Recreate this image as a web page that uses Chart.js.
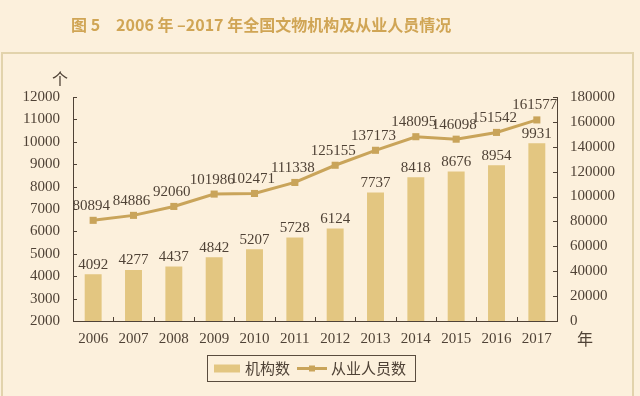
<!DOCTYPE html>
<html>
<head>
<meta charset="utf-8">
<script src="https://cdn.jsdelivr.net/npm/chart.js@4.4.1/dist/chart.umd.min.js"></script>
<style>
  html, body { margin: 0; padding: 0; background: #fcf0dc; }
  #wrap { position: relative; width: 640px; height: 396px; }
</style>
</head>
<body>
<div id="wrap"><canvas id="chart" width="640" height="396"></canvas></div>
<script>
// Data
const years = ['2006', '2007', '2008', '2009', '2010', '2011', '2012', '2013', '2014', '2015', '2016', '2017'];
const institutions = [4092, 4277, 4437, 4842, 5207, 5728, 6124, 7737, 8418, 8676, 8954, 9931];
const staff = [80894, 84886, 92060, 101986, 102471, 111338, 125155, 137173, 148095, 146098, 151542, 161577];
const titleText = '图 5　2006 年 –2017 年全国文物机构及从业人员情况';

const BG = '#fcf0dc';
const BAR = '#e3c681';
const LINE = '#c9a45a';
const INK = '#4f4236';
const SERIF = '"Liberation Serif", "DejaVu Serif", serif';
const CJK = '"Noto Sans CJK SC", "Noto Sans", sans-serif';

// Background, frame, title, unit labels, inner ticks, value labels, legend
const decorPlugin = {
    id: 'decor',
    beforeDraw(chart) {
        const c = chart.ctx;
        c.save();
        c.fillStyle = BG;
        c.fillRect(0, 0, chart.width, chart.height);
        c.strokeStyle = '#e2d3ac';
        c.lineWidth = 2;
        c.strokeRect(2, 53, 631, 360);
        c.fillStyle = '#d0a555';
        c.font = 'bold 16px ' + CJK;
        c.textAlign = 'left';
        c.textBaseline = 'middle';
        c.fillText(titleText, 71, 25);
        c.restore();
    },
    afterDraw(chart) {
        const c = chart.ctx;
        const x = chart.scales.x, y = chart.scales.y, y1 = chart.scales.y1;
        const area = chart.chartArea;
        c.save();
        c.strokeStyle = INK;
        c.lineWidth = 1;
        // inward ticks
        c.beginPath();
        y.ticks.forEach((t, i) => {
            const py = Math.round(y.getPixelForTick(i)) + 0.5;
            c.moveTo(area.left, py); c.lineTo(area.left + 4, py);
        });
        y1.ticks.forEach((t, i) => {
            const py = Math.round(y1.getPixelForTick(i)) + 0.5;
            c.moveTo(area.right, py); c.lineTo(area.right - 4, py);
        });
        for (let i = 1; i < years.length; i++) {
            const px = Math.round((x.getPixelForValue(i - 1) + x.getPixelForValue(i)) / 2) + 0.5;
            c.moveTo(px, area.bottom); c.lineTo(px, area.bottom - 4);
        }
        c.stroke();

        // unit labels
        c.fillStyle = INK;
        c.font = '16px ' + CJK;
        c.textAlign = 'center';
        c.textBaseline = 'middle';
        c.fillText('个', 60, 79);
        c.fillText('年', 585, 339);

        // value labels
        const lineMeta = chart.getDatasetMeta(0);
        const barMeta = chart.getDatasetMeta(1);
        c.font = '15px ' + SERIF;
        c.textBaseline = 'bottom';
        barMeta.data.forEach((bar, i) => {
            c.fillText(String(institutions[i]), bar.x, bar.y - 2);
        });
        lineMeta.data.forEach((pt, i) => {
            c.fillText(String(staff[i]), pt.x - 2, pt.y - 7);
        });

        // legend
        const lx = 207, ly = 355, lw = 208, lh = 26;
        c.strokeStyle = '#5a4c3e';
        c.lineWidth = 1;
        c.strokeRect(lx + 0.5, ly + 0.5, lw, lh);
        const my = ly + lh / 2 + 0.5;
        const barDs = chart.data.datasets[1];
        const lineDs = chart.data.datasets[0];
        c.fillStyle = barDs.backgroundColor;
        c.fillRect(214, my - 4, 26, 8);
        c.strokeStyle = lineDs.borderColor;
        c.lineWidth = 3;
        c.beginPath(); c.moveTo(297, my); c.lineTo(327, my); c.stroke();
        c.fillStyle = lineDs.borderColor;
        c.fillRect(309, my - 3, 6, 6);
        c.fillStyle = INK;
        c.font = '15px ' + CJK;
        c.textAlign = 'left';
        c.textBaseline = 'middle';
        c.fillText(barDs.label, 245, my);
        c.fillText(lineDs.label, 331, my);
        c.restore();
    }
};

new Chart(document.getElementById('chart'), {
    data: {
        labels: years,
        datasets: [
            {
                type: 'line',
                label: '从业人员数',
                data: staff,
                yAxisID: 'y1',
                borderColor: LINE,
                backgroundColor: LINE,
                borderWidth: 3,
                pointStyle: 'rect',
                pointRadius: 5,
                pointBorderWidth: 0,
                pointBackgroundColor: LINE,
                tension: 0,
                order: 0
            },
            {
                type: 'bar',
                label: '机构数',
                data: institutions,
                yAxisID: 'y',
                backgroundColor: BAR,
                barPercentage: 0.42,
                categoryPercentage: 1,
                order: 1
            }
        ]
    },
    options: {
        responsive: false,
        animation: false,
        layout: { padding: { top: 97, bottom: 0, left: 0, right: 0 } },
        plugins: {
            legend: { display: false },
            title: { display: false },
            tooltip: { enabled: false }
        },
        scales: {
            x: {
                offset: true,
                grid: { display: false },
                border: { color: INK, width: 1 },
                ticks: { color: INK, font: { family: SERIF, size: 15 }, padding: 1, maxRotation: 0 },
                afterFit: s => { s.height = 75; }
            },
            y: {
                position: 'left',
                min: 2000,
                max: 12000,
                grid: { display: false },
                border: { color: INK, width: 1 },
                ticks: { stepSize: 1000, color: INK, font: { family: SERIF, size: 15 }, padding: 5, callback: v => String(v) },
                afterFit: s => { s.width = 73; }
            },
            y1: {
                position: 'right',
                min: 0,
                max: 180000,
                grid: { display: false },
                border: { color: INK, width: 1 },
                ticks: { stepSize: 20000, color: INK, font: { family: SERIF, size: 15 }, padding: 5, callback: v => String(v) },
                afterFit: s => { s.width = 83; }
            }
        }
    },
    plugins: [decorPlugin]
});
</script>
</body>
</html>
